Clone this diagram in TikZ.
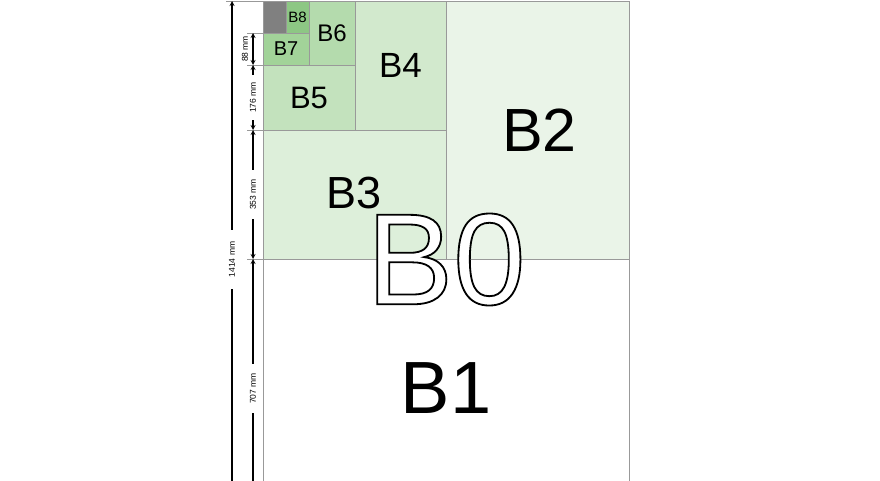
\documentclass[tikz,border=0pt]{standalone}
\usepackage{fontspec}
\setmainfont{Liberation Sans}
\usepackage{xcolor}
\usetikzlibrary{arrows,calc,positioning}
\tikzset{%
  sheet/.style={draw=black!40,line width=0.8pt,inner sep=0pt,outer sep=0pt,anchor=north west},
  dimline/.style={line width=1.2pt,stealth-stealth},
  dimlabel/.style={rotate=90,font=\fontsize{8.5pt}{10pt}\selectfont,inner xsep=9pt,inner ysep=1pt},
  tick/.style={draw=black!40,line width=0.6pt},
}
\definecolor{greenB2}{HTML}{EAF4E8}
\definecolor{greenB3}{HTML}{DDEFDA}
\definecolor{greenB4}{HTML}{D2E9CD}
\definecolor{greenB5}{HTML}{C3E2BD}
\definecolor{greenB6}{HTML}{B4DBAD}
\definecolor{greenB7}{HTML}{A2D399}
\definecolor{greenB8}{HTML}{8DC784}
\definecolor{greyB9}{HTML}{808080}
\newcommand{\fsz}[1]{\fontsize{#1pt}{#1pt}\selectfont}
\newcommand{\outlined}[1]{\special{pdf:literal direct 2 Tr 1.8 w 1 g 0 G}#1\special{pdf:literal direct 0 Tr 0 g}}

\begin{document}
\begin{tikzpicture}[x=1pt,y=-1pt]
  \useasboundingbox (0,0) rectangle (880,480);
  \clip (0,0) rectangle (880,480);

  % the sheets, largest first
  \node[sheet,fill=white,minimum width=366pt,minimum height=259pt,font=\fsz{74}] (b1) at (263,259) {B1};
  \node[sheet,fill=greenB2,minimum width=183pt,minimum height=258pt,font=\fsz{61}] (b2) at (446,1) {\hspace*{4pt}B2};
  \node[sheet,fill=greenB3,minimum width=183pt,minimum height=129pt,font=\fsz{45}] (b3) at (263,130) {\raisebox{3pt}{B3}};
  \node[sheet,fill=greenB4,minimum width=91pt,minimum height=129pt,font=\fsz{35}] (b4) at (355,1) {B4};
  \node[sheet,fill=greenB5,minimum width=92pt,minimum height=65pt,font=\fsz{31}] (b5) at (263,65) {B5};
  \node[sheet,fill=greenB6,minimum width=46pt,minimum height=64pt,font=\fsz{24}] (b6) at (309,1) {B6};
  \node[sheet,fill=greenB7,minimum width=46pt,minimum height=32pt,font=\fsz{20}] (b7) at (263,33) {B7};
  \node[sheet,fill=greenB8,minimum width=23pt,minimum height=32pt,font=\fsz{15}] (b8) at (286,1) {B8};
  \node[sheet,fill=greyB9,minimum width=23pt,minimum height=32pt] (b9) at (263,1) {};

  % whole sheet with outlined label
  \node[sheet,minimum width=366pt,minimum height=517pt,font=\fsz{130}] (b0) at (263,1) {\outlined{B0}};

  % dimensions
  \coordinate (top) at (232,1);
  \coordinate (bot) at (232,518);
  \coordinate (d1) at (253,33);
  \coordinate (d2) at (253,65);
  \coordinate (d3) at (253,130);
  \coordinate (d4) at (253,259);
  \coordinate (d5) at (253,518);

  \draw[tick] (226,1) -- (b9.north west);
  \foreach \y in {33,65,130,259}
    \draw[tick] (247,\y) -- (263,\y);

  \draw[dimline] (top) -- node[dimlabel,fill=white,inner xsep=12pt] {1414 mm} (bot);
  \draw[dimline] (d1) -- (d2);
  \node[dimlabel,inner xsep=0pt] (l88) at (245,49) {88 mm};
  \draw[dimline] (d2) -- node[dimlabel,fill=white,inner xsep=7pt] {176 mm} (d3);
  \draw[dimline] (d3) -- node[dimlabel,fill=white] {353 mm} (d4);
  \draw[dimline] (d4) -- node[dimlabel,fill=white] {707 mm} (d5);
\end{tikzpicture}
\end{document}
